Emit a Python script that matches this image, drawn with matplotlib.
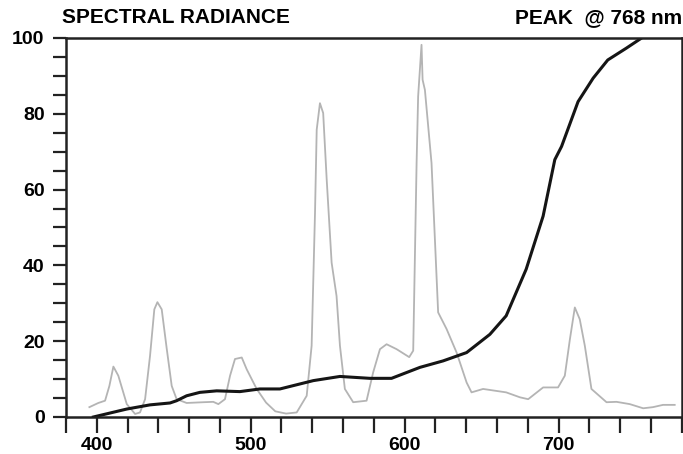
import matplotlib
matplotlib.use("Agg")
from matplotlib import pyplot as plt
from matplotlib.ticker import MultipleLocator

plt.rcParams['font.family'] = ['Liberation Sans', 'DejaVu Sans']

# gray spectrum (lamp emission lines)
spec_nm = [395.2, 401, 405.4, 408.2, 410.8, 414, 419.5, 424.9, 428.1, 431.4, 434.6,
           437.4, 439.4, 442.2, 445.5, 448.7, 451.9, 458.4, 469.2, 475.7, 479, 483.3,
           486.6, 489.8, 494.2, 497.4, 503.9, 510, 516, 523, 529.9, 536.4, 539.6,
           540.7, 541.8, 542.9, 545, 547.1, 549.4, 552.6, 555.8, 558, 561.2, 566.6,
           575.3, 579.6, 584, 588.3, 594.8, 603, 605.6, 607.8, 608.8, 611, 611.7,
           613.2, 617.5, 621.8, 627.3, 633.8, 640.3, 643.5, 651, 666, 674.9, 680.3,
           690, 699.7, 704.1, 707.4, 710.6, 713.8, 717.1, 721.4, 731.2, 737.7, 746.3,
           755, 761.4, 767.9, 775.5]
spec_val = [2.6, 3.7, 4.3, 8.2, 13.3, 10.9, 3.4, 0.8, 1.2, 4.7, 16.1,
            28.4, 30.3, 28.4, 17.9, 8.2, 4.7, 3.7, 3.9, 4.0, 3.4, 4.7,
            10.9, 15.3, 15.7, 12.6, 7.4, 3.8, 1.5, 0.9, 1.2, 5.6, 18.8,
            36.3, 53.9, 75.8, 82.8, 80.2, 62.6, 40.7, 31.9, 18.8, 7.4, 3.9,
            4.3, 11.8, 17.9, 19.2, 17.9, 15.8, 17.5, 67, 84.6, 98.2, 89,
            86.3, 67, 27.6, 23.2, 17, 9.1, 6.5, 7.4, 6.5, 5.2, 4.7,
            7.8, 7.8, 10.9, 20.5, 28.9, 25.8, 18.8, 7.4, 3.9, 4.0, 3.4,
            2.3, 2.6, 3.2, 3.2]

# black response curve
resp_nm = [397.8, 419.5, 434.6, 447.6, 451.9, 458.4, 467, 477.9, 493, 506, 519,
           540.7, 558, 577.5, 591.5, 610, 625, 640.3, 655.4, 666, 679, 690, 697.6,
           702, 712.7, 722.5, 732, 744, 754]
resp_val = [0.0, 2.1, 3.2, 3.7, 4.3, 5.6, 6.5, 6.9, 6.7, 7.4, 7.4,
            9.6, 10.7, 10.2, 10.2, 13.1, 14.8, 17, 21.8, 26.7, 39, 53, 67.9,
            71.4, 83.2, 89.4, 94.2, 97.3, 100]

fig = plt.figure(figsize=(6.83, 4.54), dpi=100)
ax = fig.add_axes([0.0966, 0.0815, 0.9014, 0.8348])

ax.plot(spec_nm, spec_val, color='#b4b4b4', lw=1.3)
ax.plot(resp_nm, resp_val, color='#151515', lw=2.2)

ax.set_xlim(380, 780)
ax.set_ylim(0, 100)

ax.xaxis.set_major_locator(MultipleLocator(100))
ax.xaxis.set_minor_locator(MultipleLocator(20))
ax.yaxis.set_major_locator(MultipleLocator(20))
ax.yaxis.set_minor_locator(MultipleLocator(5))

ax.tick_params(axis='x', which='both', direction='out', length=11.5, width=1.6,
               color='#222222', pad=3)
ax.tick_params(axis='y', which='both', direction='out', length=9.4, width=1.6,
               color='#222222', pad=6)
ax.tick_params(labelsize=14)
for lab in ax.get_xticklabels() + ax.get_yticklabels():
    lab.set_fontweight('bold')

for s in ax.spines.values():
    s.set_linewidth(1.8)
    s.set_color('#222222')

fig.text(0.091, 0.961, 'SPECTRAL RADIANCE', fontsize=15, fontweight='bold', ha='left', va='center')
fig.text(0.998, 0.961, 'PEAK  @ 768 nm', fontsize=15, fontweight='bold', ha='right', va='center')

fig.savefig('out.png', dpi=100)
